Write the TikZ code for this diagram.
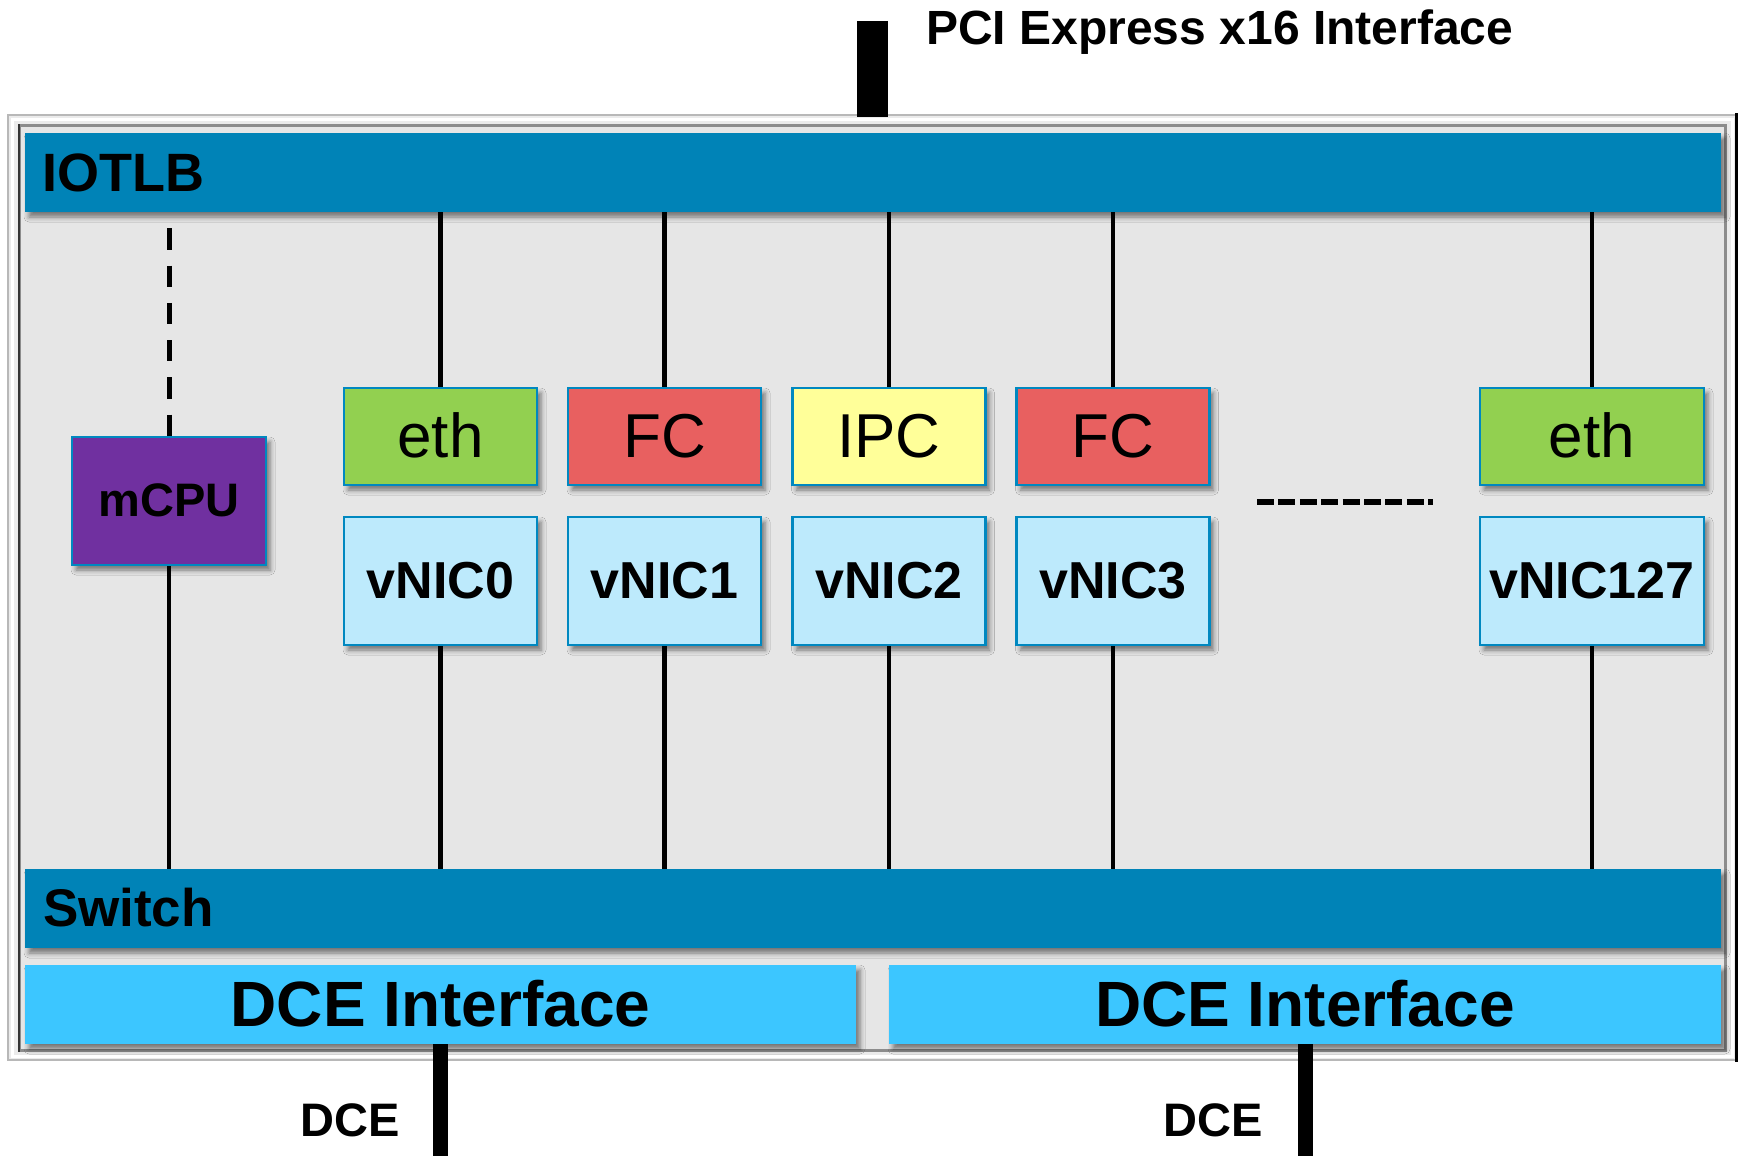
\documentclass[tikz,border=0pt]{standalone}
\usepackage{fontspec}
\setmainfont{Liberation Sans}
\usetikzlibrary{shadows.blur}

\definecolor{barblue}{RGB}{0,131,183}
\definecolor{dceblue}{RGB}{60,198,255}
\definecolor{ethgreen}{RGB}{146,208,80}
\definecolor{fcred}{RGB}{232,96,96}
\definecolor{ipcyellow}{RGB}{255,255,153}
\definecolor{vnicblue}{RGB}{189,234,252}
\definecolor{cpupurple}{RGB}{112,48,160}
\definecolor{boxedge}{RGB}{0,136,192}
\definecolor{panelgray}{RGB}{230,230,230}

\newcommand\sizept[1]{\fontsize{#1pt}{#1pt}\selectfont}

\tikzset{
  softshadow/.style={blur shadow={shadow xshift=4pt, shadow yshift=-5pt,
      shadow blur radius=5pt, shadow opacity=50}},
  busbar/.style={fill=barblue, inner ysep=0pt, align=left, softshadow,
      font=\sizept{54}\bfseries},
  dcebar/.style={fill=dceblue, inner sep=0pt, minimum width=#1, softshadow,
      text height=61pt, text depth=18pt, font=\sizept{64}\bfseries},
  funcbox/.style={draw=boxedge, line width=2.5pt, fill=#1, inner sep=0pt,
      minimum width=193pt, text height=69pt, text depth=28pt, softshadow,
      font=\sizept{62}},
  nicbox/.style={draw=boxedge, line width=2.5pt, fill=vnicblue, inner sep=0pt,
      minimum width=193pt, text height=81pt, text depth=47pt, softshadow,
      font=\sizept{52}\bfseries},
  link/.style={line width=4.5pt, black},
  portline/.style={line width=#1, black},
  caption/.style={inner sep=0pt, anchor=base west, font=\sizept{#1}\bfseries},
}

\begin{document}
\begin{tikzpicture}[x=1pt, y=-1pt]
\useasboundingbox (0,0) rectangle (1741,1156);

% ---------- adapter frame with bevelled rim ----------
\fill[black!8] (7,114) rectangle (1738,1061);
\draw[black!28, line width=2pt] (8,115) rectangle (1737,1060);
\draw[white, line width=3pt] (12,119) rectangle (1732,1056);
\fill[panelgray] (19,125) rectangle (1726,1051);
\draw[black!45, line width=3pt] (19.5,125.5) rectangle (1725.5,1050.5);
\draw[black!80, line width=2.5pt] (19,124) -- (19,1052);
\draw[black, line width=3pt] (1736.5,113) -- (1736.5,1062);

% ---------- buses ----------
\node[busbar, inner xsep=17pt, text width=1662pt, text height=58pt, text depth=21pt]
  (iotlb) at (873,172.5) {IOTLB};
\node[busbar, inner xsep=18pt, text width=1660pt, text height=57pt, text depth=22pt,
      font=\sizept{53}\bfseries]
  (switch) at (873,908.5) {Switch};

\node[dcebar=831pt] (dceL) at (440.5,1004.5) {DCE Interface};
\node[dcebar=832pt] (dceR) at (1305,1004.5) {DCE Interface};

% ---------- management CPU ----------
\node[draw=boxedge, line width=2.5pt, fill=cpupurple, inner sep=0pt,
      minimum width=194pt, text height=79pt, text depth=49pt, softshadow,
      font=\sizept{47}\bfseries] (mcpu) at (169,501) {mCPU};

% ---------- virtual NICs ----------
\node[funcbox=ethgreen]  (f0) at (440.5,436.5) {eth};
\node[funcbox=fcred]     (f1) at (664.5,436.5) {FC};
\node[funcbox=ipcyellow] (f2) at (889,436.5)   {IPC};
\node[funcbox=fcred]     (f3) at (1113,436.5)  {FC};
\node[funcbox=ethgreen, minimum width=224pt] (f127) at (1592,436.5) {eth};

\node[nicbox] (n0) at (440.5,581) {vNIC0};
\node[nicbox] (n1) at (664.5,581) {vNIC1};
\node[nicbox] (n2) at (889,581)   {vNIC2};
\node[nicbox] (n3) at (1113,581)  {vNIC3};
\node[nicbox, minimum width=224pt] (n127) at (1592,581) {vNIC127};

% ---------- wiring between buses and NICs ----------
\foreach \f/\n in {f0/n0, f1/n1, f2/n2, f3/n3, f127/n127} {
  \draw[link] (\f.north |- iotlb.south) -- (\f.north);
  \draw[link] (\n.south) -- (\n.south |- switch.north);
}
\draw[link, line width=5pt, dash pattern=on 21.3pt off 16pt, dash phase=21.3pt]
  (mcpu.north |- iotlb.south) -- (mcpu.north);
\draw[link] (mcpu.south) -- (mcpu.south |- switch.north);

% ellipsis between vNIC3 and vNIC127
\coordinate (moreL) at (1257,502);
\coordinate (moreR) at (1433,502);
\draw[line width=6pt, dash pattern=on 17pt off 4.4pt] (moreL) -- (moreR);

% ---------- external ports ----------
\coordinate (pcieOut) at (872.5,21);
\coordinate (pcieIn) at (872.5,117);
\draw[portline=31pt] (pcieOut) -- (pcieIn);
\node[caption=48] (pcieText) at (926,45) {PCI Express x16 Interface};

\coordinate (dceLout) at (440.5,1156);
\coordinate (dceRout) at (1305,1156);
\draw[portline=15pt] (dceL.south) -- (dceLout);
\draw[portline=15pt] (dceR.south) -- (dceRout);
\node[caption=47] (dceLtext) at (300,1136) {DCE};
\node[caption=47] (dceRtext) at (1163,1136) {DCE};
\end{tikzpicture}
\end{document}
